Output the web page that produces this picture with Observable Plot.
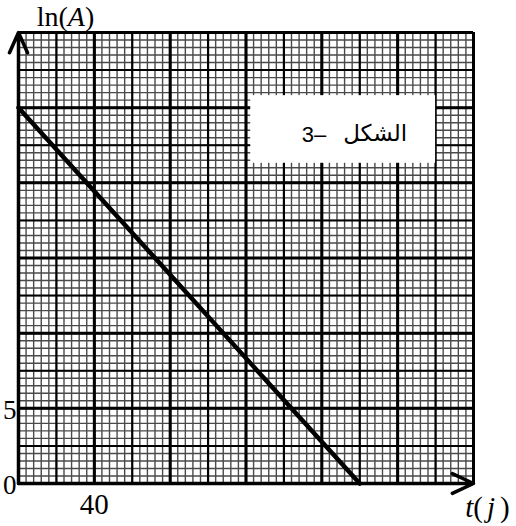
<!DOCTYPE html>
<html><head><meta charset="utf-8">
<script src="https://cdn.jsdelivr.net/npm/d3@7"></script>
<script src="https://cdn.jsdelivr.net/npm/@observablehq/plot@0.6"></script>
<style>
html,body{margin:0;padding:0;background:#fff;}
svg{display:block;}
</style>
</head><body><div id="chart"></div>
<script>
// ---- data ----
const lineT = [0, 180];          // t (j)
const lineLnA = [25, 0];         // ln(A)
const xTicks = [40];
const yTicks = [0, 5];
const xDomain = [0, 240];
const yDomain = [0, 30];
const minorXStep = 4, mediumXStep = 20, majorXStep = 40;
const minorYStep = 0.5, mediumYStep = 2.5, majorYStep = 5;
const boxT = [122.5, 220];
const boxLn = [21.3, 25.8];
const boxNumber = "3–";
const boxWord = "الشكل";
const xLabel = "t(j)";
const yLabel = "ln(A)";

const grid = (step, max) => d3.range(0, max + 1e-9, step);
const minorX = grid(minorXStep, xDomain[1]);
const mediumX = grid(mediumXStep, xDomain[1]);
const majorX = grid(majorXStep, xDomain[1]);
const minorY = grid(minorYStep, yDomain[1]);
const mediumY = grid(mediumYStep, yDomain[1]);
const majorY = grid(majorYStep, yDomain[1]);
const lineData = lineT.map((t, i) => ({t, v: lineLnA[i]}));
const boxCx = (boxT[0] + boxT[1]) / 2, boxCy = (boxLn[0] + boxLn[1]) / 2;

const serif = "'Liberation Serif', 'Times New Roman', serif";

const plot = Plot.plot({
  width: 516, height: 526,
  marginLeft: 18, marginRight: 43, marginTop: 32, marginBottom: 43,
  x: {domain: xDomain, axis: null},
  y: {domain: yDomain, axis: null},
  style: {fontFamily: serif, background: "#fff", color: "#000"},
  marks: [
    Plot.ruleX(minorX, {y1: yDomain[0], y2: yDomain[1], stroke: "#4a4a4a", strokeWidth: 1.4}),
    Plot.ruleY(minorY, {x1: xDomain[0], x2: xDomain[1], stroke: "#4a4a4a", strokeWidth: 1.4}),
    Plot.ruleX(mediumX, {y1: yDomain[0], y2: yDomain[1], stroke: "#000", strokeWidth: 2.2}),
    Plot.ruleY(mediumY, {x1: xDomain[0], x2: xDomain[1], stroke: "#000", strokeWidth: 2}),
    Plot.ruleX(majorX, {y1: yDomain[0], y2: yDomain[1], stroke: "#000", strokeWidth: 3}),
    Plot.ruleY(majorY, {x1: xDomain[0], x2: xDomain[1], stroke: "#000", strokeWidth: 3}),
    Plot.rect([boxWord], {x1: boxT[0], x2: boxT[1], y1: boxLn[0], y2: boxLn[1], fill: "#fff"}),
    Plot.text([boxNumber], {x: boxCx, y: boxCy, text: d => d, textAnchor: "end",
      fontSize: 22, dx: -17, dy: 5, fill: "#000", fontFamily: "'Liberation Sans', Arial, sans-serif"}),
    Plot.text([boxWord], {x: boxCx, y: boxCy, text: d => d, textAnchor: "start",
      fontSize: 23, dx: 0, dy: 4, fill: "#000", fontFamily: "'DejaVu Sans', sans-serif"}),
    Plot.line(lineData, {x: "t", y: "v", stroke: "#000", strokeWidth: 4.5}),
    Plot.arrow([xLabel], {x1: xDomain[0], y1: 0, x2: xDomain[1], y2: 0, stroke: "#000", strokeWidth: 3.5,
      headLength: 10, headAngle: 50}),
    Plot.arrow([yLabel], {x1: 0, y1: yDomain[0], x2: 0, y2: yDomain[1], stroke: "#000", strokeWidth: 3.5,
      headLength: 9.5, headAngle: 48}),
    Plot.text(xTicks, {x: d => d, y: 0, text: d => String(d), dy: 21, fontSize: 29, fill: "#000"}),
    Plot.text(yTicks, {x: 0, y: d => d, text: d => String(d), dx: -2, dy: 2, textAnchor: "end", fontSize: 27, fill: "#000"}),
    Plot.text([yLabel], {x: 0, y: yDomain[1], text: d => d, dx: 47, dy: -15, fontSize: 28, fill: "#000"}),
    Plot.text([xLabel], {x: xDomain[1], y: 0, text: d => d, dx: 14, dy: 24, fontSize: 29, fill: "#000"})
  ]
});

// mixed italic styling for axis labels
plot.querySelectorAll("text").forEach(t => {
  if (t.textContent === yLabel) {
    t.innerHTML = 'ln(<tspan font-style="italic">A</tspan>)';
  } else if (t.textContent === xLabel) {
    t.innerHTML = '<tspan font-style="italic">t</tspan>(<tspan font-style="italic" dx="4">j</tspan><tspan dx="5">)</tspan>';
  }
});

document.getElementById("chart").appendChild(plot);
</script>
</body></html>
